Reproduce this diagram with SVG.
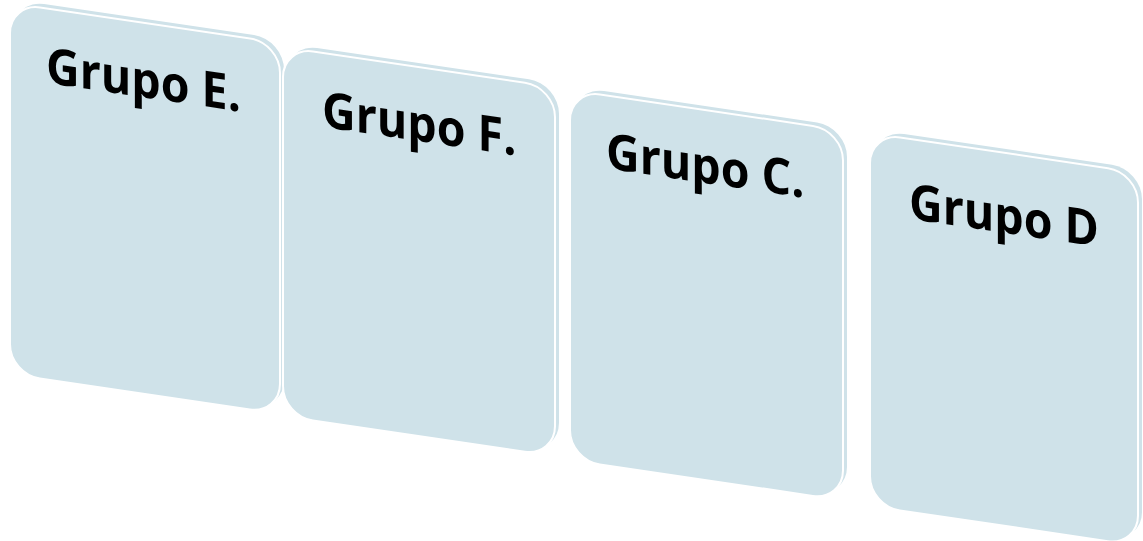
<svg xmlns="http://www.w3.org/2000/svg" width="1143" height="541" viewBox="0 0 1143 541">
<style>
.back{fill:#cfe2e9;}
.front{fill:#cfe2e9;stroke:#ffffff;stroke-width:2;}
.lbl{font-family:"Open Sans","Noto Sans",sans-serif;font-weight:bold;font-size:50px;fill:#000000;}
</style>
<rect width="1143" height="541" fill="#ffffff"/>
<g id="node-e" transform="translate(10,3) skewY(8.4)">
<rect class="back" x="4" y="-4" width="270" height="371" rx="30" ry="30"/>
<rect class="front" x="0" y="0" width="270" height="371" rx="30" ry="30"/>
<text class="lbl" transform="translate(36,74.5) scale(0.93,1)">Grupo E.</text>
</g>
<g id="node-f" transform="translate(283,47) skewY(8.4)">
<rect class="back" x="4" y="-4" width="272" height="369" rx="30" ry="30"/>
<rect class="front" x="0" y="0" width="272" height="369" rx="30" ry="30"/>
<text class="lbl" transform="translate(39,74) scale(0.93,1)">Grupo F.</text>
</g>
<g id="node-c" transform="translate(570,90) skewY(8.4)">
<rect class="back" x="4" y="-4" width="273" height="370" rx="30" ry="30"/>
<rect class="front" x="0" y="0" width="273" height="370" rx="30" ry="30"/>
<text class="lbl" transform="translate(36,73) scale(0.93,1)">Grupo C.</text>
</g>
<g id="node-d" transform="translate(870,133) skewY(8.4)">
<rect class="back" x="4" y="-4" width="268" height="373" rx="30" ry="30"/>
<rect class="front" x="0" y="0" width="268" height="373" rx="30" ry="30"/>
<text class="lbl" transform="translate(39,80) scale(0.93,1)">Grupo D</text>
</g>
<g id="connectors"></g>
</svg>
